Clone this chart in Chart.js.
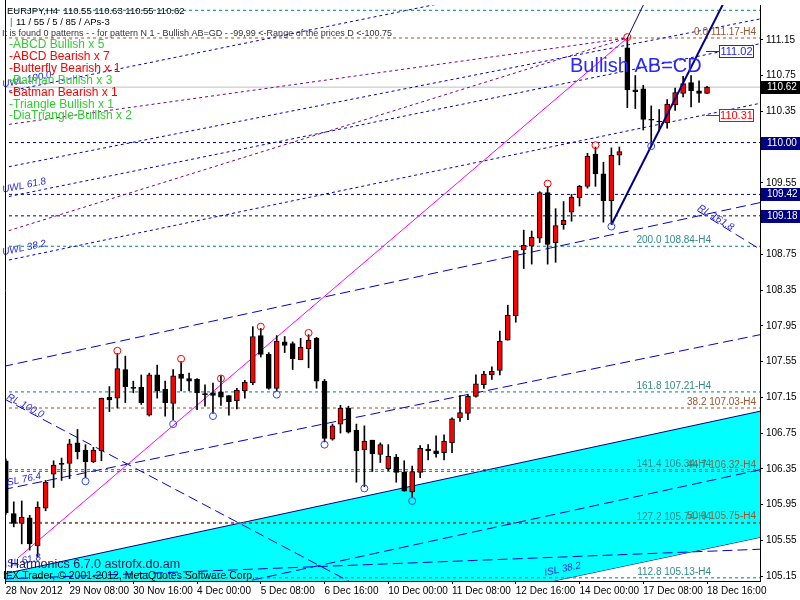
<!DOCTYPE html>
<html lang="en">
<head>
<meta charset="UTF-8">
<title>EURJPY,H4</title>
<script src="https://cdn.jsdelivr.net/npm/chart.js@4.4.1/dist/chart.umd.min.js"></script>
<style>
  html, body { margin: 0; padding: 0; background: #fff; }
</style>
</head>
<body>
<canvas id="chart" width="800" height="600"></canvas>
<script>
// ---- candles (H4, bar 0 = 28 Nov 2012 00:00) ----
const opens = [106.44,105.85,105.74,105.80,105.49,105.91,106.29,106.41,106.41,106.64,
  106.56,106.43,106.55,107.15,107.14,107.46,107.26,107.26,106.95,107.40,
  107.24,107.08,107.41,107.36,107.35,107.19,107.20,107.21,107.17,107.11,
  107.22,107.31,107.84,107.63,107.25,107.77,107.75,107.57,107.69,107.81,
  107.33,106.68,106.85,107.03,106.78,106.56,106.67,106.51,106.35,106.48,
  106.31,106.09,106.31,106.57,106.55,106.53,106.64,106.92,106.97,107.16,
  107.29,107.40,107.45,107.79,108.06,108.80,108.84,108.93,109.44,108.88,
  109.08,109.22,109.38,109.51,109.87,109.65,109.35,109.86,111.06,110.59,
  110.60,110.26,110.24,110.22,110.42,110.55,110.67,110.58,110.55];
const highs = [106.46,105.98,105.99,105.83,105.98,106.22,106.44,106.47,106.68,106.79,
  106.62,106.59,107.14,107.27,107.64,107.61,107.33,107.40,107.42,107.51,
  107.33,107.46,107.55,107.42,107.36,107.29,107.31,107.39,107.17,107.25,
  107.34,107.94,107.92,107.65,107.84,107.83,107.77,107.81,107.85,107.82,
  107.35,106.85,107.06,107.05,106.85,106.83,106.67,106.64,106.62,106.51,
  106.44,106.38,106.61,106.62,106.72,106.73,106.92,107.17,107.18,107.40,
  107.44,107.49,107.89,108.18,108.79,109.02,109.01,109.45,109.51,109.26,
  109.34,109.42,109.52,109.88,109.95,109.78,109.94,109.95,111.17,110.75,
  110.64,110.41,110.37,110.48,110.61,110.74,110.75,110.69,110.63];
const lows = [105.84,105.70,105.51,105.44,105.36,105.88,106.14,106.22,106.24,106.46,
  106.25,106.42,106.44,106.99,107.03,107.09,107.20,107.07,106.94,107.14,
  106.94,106.90,107.22,107.22,107.01,107.05,106.97,107.06,106.95,107.02,
  107.14,107.29,107.60,107.24,107.22,107.65,107.46,107.57,107.48,107.25,
  106.65,106.67,106.75,106.75,106.20,106.15,106.32,106.42,106.33,106.20,
  106.10,106.03,106.25,106.45,106.48,106.45,106.53,106.88,106.90,107.15,
  107.25,107.35,107.40,107.79,107.99,108.59,108.64,108.88,108.64,108.66,
  109.03,109.12,109.29,109.49,109.51,109.11,109.09,109.75,110.39,110.38,
  110.14,109.97,110.13,110.16,110.36,110.51,110.40,110.45,110.55];
const closes = [105.86,105.74,105.81,105.51,105.92,106.20,106.39,106.40,106.63,106.54,
  106.43,106.56,107.14,107.12,107.47,107.27,107.25,107.09,107.40,107.22,
  107.09,107.39,107.36,107.33,107.20,107.18,107.17,107.15,107.10,107.23,
  107.32,107.83,107.63,107.25,107.78,107.73,107.58,107.71,107.79,107.33,
  106.69,106.83,107.03,106.76,106.55,106.66,106.52,106.62,106.49,106.31,
  106.10,106.32,106.58,106.55,106.52,106.66,106.91,106.98,107.16,107.30,
  107.41,107.44,107.78,108.07,108.79,108.85,108.94,109.44,108.86,109.07,
  109.13,109.39,109.51,109.85,109.65,109.35,109.86,109.90,110.59,110.57,
  110.26,110.25,110.23,110.43,110.56,110.66,110.58,110.55,110.62];

// ---- axes ----
const timeTicks = [0, 8, 16, 24, 32, 40, 48, 56, 64, 72, 80, 88];
const timeLabels = ['28 Nov 2012', '29 Nov 08:00', '30 Nov 16:00', '4 Dec 00:00', '5 Dec 08:00', '6 Dec 16:00',
  '10 Dec 00:00', '11 Dec 08:00', '12 Dec 16:00', '14 Dec 00:00', '17 Dec 08:00', '18 Dec 16:00'];
const priceTicks = [105.15, 105.55, 105.95, 106.35, 106.75, 107.15, 107.55, 107.95,
  108.35, 108.75, 109.15, 109.55, 109.95, 110.35, 110.75, 111.15];

// ---- swing markers ----
const highMarkBars = [14, 22, 27, 32, 38, 68, 74, 78];
const highMarkPrices = [107.67, 107.58, 107.36, 107.94, 107.87, 109.54, 109.97, 111.18];
const lowMarkBars = [10, 21, 26, 34, 40, 45, 51, 76, 81];
const lowMarkPrices = [106.21, 106.85, 106.94, 107.18, 106.62, 106.13, 105.99, 109.06, 109.96];

// ---- horizontal levels ----
const bidPrice = 110.62;
const navyLevels = [110.00, 109.42, 109.18];
const fibBrownLevels = [111.17, 107.03, 106.32, 105.75];
const fibBrownNames = ['0.0', '38.2', '44.7', '50.0'];
const fibTealLevels = [111.48, 108.84, 107.21, 106.34, 105.74, 105.13];
const fibTealNames = ['261.8', '200.0', '161.8', '141.4', '127.2', '112.8'];
const abcdTargets = [111.02, 110.31];

// ---- trend / pitchfork lines: [bar, price] pairs ----
const uwl100 = [[-0.35, 110.561], [62.15, 111.694]];
const uwlMid = [[-0.35, 109.717], [94.65, 111.383]];
const uwl618 = [[-0.35, 109.383], [94.65, 111.106]];
const uwl382 = [[-0.35, 108.672], [94.65, 110.439]];
const fanUpper = [[-0.35, 110.194], [78, 111.17]];
const fanLower = [[-0.35, 108.994], [78, 111.17]];
const medianUpper = [[-0.35, 107.494], [94.65, 109.328]];
const isl764 = [[-0.35, 106.117], [94.65, 107.85]];
const isl618 = [[-0.35, 105.172], [94.65, 106.994]];
const isl382 = [[-0.35, 103.794], [94.65, 105.583]];
const channelMid = [[-0.35, 104.499], [94.65, 106.339]];
const channelLow = [[-0.35, 105.117], [94.65, 105.45]];
const rl100 = [[-0.35, 107.139], [44.65, 105.017]];
const rl1618 = [[86.78, 109.239], [94.65, 108.806]];
const pinkTrend = [[1.5, 105.35], [78, 111.17]];
const abcdLeg = [[76, 109.08], [92, 111.90]];
const topLeg = [[78, 111.17], [81, 111.72]];

const NAVY = '#000080', BLUE = '#0000cc', PURPLE = '#800080', TEAL = '#008080', BROWN = '#a0522d';
const LEFT = -0.35, RIGHT = 94.65;

function line(pts, color, dash, order, width) {
  return {
    type: 'line',
    data: pts.map(p => ({ x: p[0], y: p[1] })),
    borderColor: color,
    borderWidth: width || 1,
    borderDash: dash || [],
    pointRadius: 0,
    fill: false,
    tension: 0,
    order: order
  };
}
function level(v, color, dash, order) {
  return line([[LEFT, v], [RIGHT, v]], color, dash, order);
}

const idx = opens.map((o, i) => i);
const datasets = [];

// cyan channel between ISL 61.8 and ISL 38.2
datasets.push(Object.assign(line(isl618, NAVY, [], 100), { fill: '+1', backgroundColor: '#00ffff' }));
datasets.push(line(isl382, NAVY, [], 101));

fibTealLevels.forEach(v => datasets.push(level(v, TEAL, [3, 3], 90)));
fibBrownLevels.forEach(v => datasets.push(level(v, BROWN, [3, 3], 90)));
navyLevels.forEach(v => datasets.push(level(v, NAVY, [3, 3], 90)));
datasets.push(level(bidPrice, '#c0c0c0', [], 90));

[uwl100, uwlMid, uwl618, uwl382].forEach(p => datasets.push(line(p, BLUE, [3, 3], 80)));
[fanUpper, fanLower].forEach(p => datasets.push(line(p, PURPLE, [3, 3], 80)));
[medianUpper, isl764, channelMid, channelLow, rl100, rl1618].forEach(p => datasets.push(line(p, BLUE, [10, 5], 80)));
datasets.push(line(pinkTrend, '#ff00ff', [], 70));

datasets.push({
  type: 'bar',
  data: idx.map(i => ({ x: i, y: [lows[i], highs[i]] })),
  backgroundColor: '#000',
  barThickness: 1,
  grouped: false,
  order: 20
});
datasets.push({
  type: 'bar',
  data: idx.map(i => ({ x: i, y: [opens[i], closes[i]] })),
  backgroundColor: idx.map(i => closes[i] > opens[i] ? '#ff0000' : '#000000'),
  borderColor: '#000',
  borderWidth: 1,
  borderSkipped: false,
  barThickness: 5,
  grouped: false,
  order: 10
});

datasets.push(line(abcdLeg, NAVY, [], 4, 2));
datasets.push(line(topLeg, NAVY, [], 4, 1));

datasets.push({
  type: 'line', showLine: false, order: 3,
  data: highMarkBars.map((b, i) => ({ x: b, y: highMarkPrices[i] })),
  pointRadius: 3.5, pointBorderColor: '#ff0000', pointBackgroundColor: 'rgba(0,0,0,0)', pointBorderWidth: 1
});
datasets.push({
  type: 'line', showLine: false, order: 3,
  data: lowMarkBars.map((b, i) => ({ x: b, y: lowMarkPrices[i] })),
  pointRadius: 3.5, pointBorderColor: '#3344ff', pointBackgroundColor: 'rgba(0,0,0,0)', pointBorderWidth: 1
});

function pixAt(chart, pts, px) {
  const sx = chart.scales.x, sy = chart.scales.y;
  const x0 = sx.getPixelForValue(pts[0][0]), y0 = sy.getPixelForValue(pts[0][1]);
  const x1 = sx.getPixelForValue(pts[1][0]), y1 = sy.getPixelForValue(pts[1][1]);
  const t = (px - x0) / (x1 - x0);
  return { y: y0 + t * (y1 - y0), a: Math.atan2(y1 - y0, x1 - x0) };
}

const FONT = '"Liberation Sans", Arial, sans-serif';

const overlay = {
  id: 'overlay',
  afterDatasetsDraw(chart) {
    const ctx = chart.ctx, sy = chart.scales.y, area = chart.chartArea;
    ctx.save();
    ctx.textBaseline = 'alphabetic';

    // fib labels
    ctx.font = '10px ' + FONT;
    ctx.textAlign = 'right';
    ctx.fillStyle = BROWN;
    fibBrownLevels.forEach((v, i) => ctx.fillText(fibBrownNames[i] + ' ' + v.toFixed(2) + '-H4', area.right - 4, sy.getPixelForValue(v) - 3));
    ctx.fillStyle = '#2e8b8b';
    fibTealLevels.forEach((v, i) => {
      if (i === 0) return;
      ctx.fillText(fibTealNames[i] + ' ' + v.toFixed(2) + '-H4', area.right - 49, sy.getPixelForValue(v) - 3);
    });

    // pitchfork labels
    ctx.textAlign = 'left';
    ctx.font = 'italic 10px ' + FONT;
    ctx.fillStyle = '#2a2adc';
    [['UWL 100.0', uwl100, 3, -5], ['UWL 61.8', uwl618, 3, -5], ['UWL 38.2', uwl382, 3, -6],
     ['ISL 76.4', isl764, 5, -3], ['ISL 61.8', isl618, 5, -6], ['ISL 38.2', isl382, 545, -7],
     ['RL 100.0', rl100, 6, -1], ['RL 161.8', rl1618, 697, -1]].forEach(l => {
      const p = pixAt(chart, l[1], l[2]);
      ctx.save();
      ctx.translate(l[2], p.y + l[3]);
      ctx.rotate(p.a);
      ctx.fillText(l[0], 0, 0);
      ctx.restore();
    });

    // AB=CD targets
    ctx.font = '11px ' + FONT;
    ctx.textAlign = 'center';
    ctx.textBaseline = 'middle';
    [['#1c1cff', abcdTargets[0]], ['#ff0000', abcdTargets[1]]].forEach(t => {
      const y = Math.round(sy.getPixelForValue(t[1])) + 0.5;
      ctx.strokeStyle = t[0];
      ctx.lineWidth = 1;
      ctx.beginPath(); ctx.moveTo(706, y); ctx.lineTo(719, y); ctx.stroke();
      ctx.fillStyle = '#fff';
      ctx.fillRect(719.5, y - 6, 34, 12);
      ctx.strokeRect(719.5, y - 6, 34, 12);
      ctx.fillStyle = t[0];
      ctx.fillText(t[1].toFixed(2), 736.5, y + 0.5);
    });

    ctx.textBaseline = 'alphabetic';
    ctx.textAlign = 'left';
    ctx.font = '20px ' + FONT;
    ctx.fillStyle = '#2828ff';
    ctx.fillText('Bullish AB=CD', 570, 72);

    // header texts
    ctx.fillStyle = '#000';
    ctx.font = '9.5px ' + FONT;
    ctx.fillText('EURJPY,H4  110.55 110.63 110.55 110.62', 7, 14);
    ctx.fillStyle = '#3050ff';
    ctx.fillText('|', 10, 25);
    ctx.fillStyle = '#000';
    ctx.fillText('11 / 55 / 5 / 85 / APs-3', 16, 25);
    ctx.font = '9px ' + FONT;
    ctx.fillStyle = '#333';
    ctx.fillText('It is found 0 patterns - - for pattern N 1 - Bullish AB=GD - -99,99 <-Range of the prices D <-100.75', 2, 36);

    const patterns = [['-ABCD Bullish x 5', '#32cd32'], ['-ABCD Bearish x 7', '#ff0000'], ['-Butterfly Bearish x 1', '#ff0000'],
      ['-Batman Bullish x 3', '#32cd32'], ['-Batman Bearish x 1', '#ff0000'], ['-Triangle Bullish x 1', '#32cd32'],
      ['-DiaTriangle Bullish x 2', '#32cd32']];
    ctx.font = '12px ' + FONT;
    patterns.forEach((p, i) => {
      ctx.fillStyle = p[1];
      ctx.fillText(p[0], 9, 48 + i * 11.9);
    });

    ctx.font = '12.5px ' + FONT;
    ctx.fillStyle = '#1a1a4a';
    ctx.fillText('Harmonics 6.7.0 astrofx.do.am', 10, 568);
    ctx.font = '10.5px ' + FONT;
    ctx.fillStyle = '#000';
    ctx.fillText('IFX Trader, \u00a9 2001-2012, MetaQuotes Software Corp.', 3, 579);
    ctx.restore();
  },
  afterDraw(chart) {
    const ctx = chart.ctx, sy = chart.scales.y, area = chart.chartArea;
    ctx.save();
    ctx.strokeStyle = '#000';
    ctx.lineWidth = 1;
    ctx.beginPath(); ctx.moveTo(area.left + 0.5, 0); ctx.lineTo(area.left + 0.5, area.bottom); ctx.stroke();

    ctx.font = '10px ' + FONT;
    ctx.textBaseline = 'middle';
    ctx.textAlign = 'left';
    [[bidPrice, '#000000'], [navyLevels[0], NAVY], [navyLevels[1], NAVY], [navyLevels[2], NAVY]].forEach(b => {
      const y = Math.round(sy.getPixelForValue(b[0]));
      ctx.fillStyle = b[1];
      ctx.fillRect(area.right + 1, y - 6, 39, 13);
      ctx.fillStyle = '#fff';
      ctx.fillText(b[0].toFixed(2), area.right + 7, y + 0.5);
    });
    ctx.restore();
  }
};

new Chart(document.getElementById('chart'), {
  type: 'bar',
  data: { datasets: datasets },
  options: {
    responsive: false,
    animation: false,
    events: [],
    layout: { padding: { left: 2, top: 1, right: 0, bottom: 0 } },
    plugins: { legend: { display: false }, tooltip: { enabled: false } },
    scales: {
      x: {
        type: 'linear', min: -0.1, max: 94.65, offset: false,
        grid: { drawOnChartArea: false, tickLength: 3, color: '#000', offset: false },
        border: { display: true, color: '#000' },
        afterBuildTicks: s => { s.ticks = timeTicks.map(v => ({ value: v })); },
        afterFit: s => { s.height = 19; s.paddingLeft = 0; s.paddingRight = 0; },
        ticks: {
          autoSkip: false, maxRotation: 0, minRotation: 0, align: 'start', padding: 1, color: '#000',
          font: { family: 'Liberation Sans', size: 10 },
          callback: (v, i) => timeLabels[i]
        }
      },
      y: {
        type: 'linear', position: 'right', min: 105.0944, max: 111.539,
        grid: { drawOnChartArea: false, tickLength: 3, color: '#000' },
        border: { display: true, color: '#000' },
        afterBuildTicks: s => { s.ticks = priceTicks.map(v => ({ value: v })); },
        afterFit: s => { s.width = 40; s.paddingTop = 0; s.paddingBottom = 0; },
        ticks: {
          padding: 3, color: '#000',
          font: { family: 'Liberation Sans', size: 10 },
          callback: v => Number(v).toFixed(2)
        }
      }
    }
  },
  plugins: [overlay]
});
</script>
</body>
</html>
